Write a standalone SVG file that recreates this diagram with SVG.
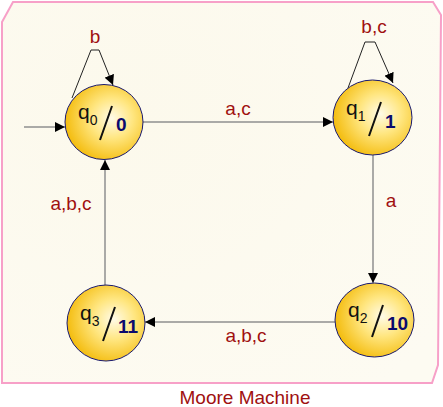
<svg xmlns="http://www.w3.org/2000/svg" width="443" height="407" viewBox="0 0 443 407">
<style>
.edge{stroke:#8f8f8f;stroke-width:1.5;fill:none}
.loop{stroke:#222;stroke-width:1;fill:none}
.lbl{font-family:"Liberation Sans",Arial,sans-serif;font-size:19px;fill:#a01010;text-anchor:middle}
.st{fill:url(#g);stroke:#1a1a6e;stroke-width:1}
.q{font-family:"Liberation Sans",Arial,sans-serif;font-size:21px;fill:#111}
.sub{font-size:14px}
.out{font-family:"Liberation Sans",Arial,sans-serif;font-size:19px;font-weight:bold;fill:#0a0a6e}
.sl{stroke:#111;stroke-width:2}
</style>
<defs>
<radialGradient id="g" cx="0.6" cy="0.45" r="0.6">
<stop offset="0" stop-color="#fffbe8"/>
<stop offset="0.45" stop-color="#ffe680"/>
<stop offset="1" stop-color="#f4bd10"/>
</radialGradient>
<radialGradient id="bg" cx="0.3" cy="0.3" r="0.9">
<stop offset="0" stop-color="#fcf9ec"/>
<stop offset="1" stop-color="#fdfbf2"/>
</radialGradient>
<marker id="ah" viewBox="0 0 10 10" refX="10" refY="5" markerWidth="10" markerHeight="10" markerUnits="userSpaceOnUse" orient="auto">
<path d="M0,0 L10,5 L0,10 z" fill="#000"/>
</marker>
</defs>
<polygon points="13,2 433,2 441,15 438,365 432,383 2,383 2,22" fill="url(#bg)" stroke="#f7a0c8" stroke-width="2"/>
<g id="connectors">
<line class="edge" x1="24" y1="127" x2="65" y2="127" marker-end="url(#ah)"/>
<line class="edge" x1="143" y1="122" x2="333" y2="122" marker-end="url(#ah)"/>
<line class="edge" x1="373" y1="155" x2="373" y2="283" marker-end="url(#ah)"/>
<line class="edge" x1="335" y1="322" x2="145" y2="322" marker-end="url(#ah)"/>
<line class="edge" x1="105" y1="285" x2="105" y2="160" marker-end="url(#ah)"/>
<polyline class="loop" points="72,98 91,50 99,50 113,85" marker-end="url(#ah)"/>
<polyline class="loop" points="348,88 365,42 375,42 393,83" marker-end="url(#ah)"/>
<text class="lbl" x="95" y="43">b</text>
<text class="lbl" x="374" y="33">b,c</text>
<text class="lbl" x="238" y="115">a,c</text>
<text class="lbl" x="391" y="207">a</text>
<text class="lbl" x="246" y="342">a,b,c</text>
<text class="lbl" x="71" y="210">a,b,c</text>
</g>
<g id="q0">
<ellipse class="st" cx="104" cy="122" rx="39" ry="37.5"/>
<text class="q" x="78" y="119">q<tspan class="sub" dy="6">0</tspan></text>
<line class="sl" x1="100" y1="140" x2="112" y2="106"/>
<text class="out" x="116" y="131">0</text>
</g>
<g id="q1">
<ellipse class="st" cx="372.5" cy="117.5" rx="39.5" ry="37.5"/>
<text class="q" x="346" y="115">q<tspan class="sub" dy="6">1</tspan></text>
<line class="sl" x1="369" y1="136" x2="381" y2="102"/>
<text class="out" x="385" y="128">1</text>
</g>
<g id="q2">
<ellipse class="st" cx="374.5" cy="320" rx="39.5" ry="37"/>
<text class="q" x="348" y="317">q<tspan class="sub" dy="6">2</tspan></text>
<line class="sl" x1="372" y1="337" x2="383" y2="305"/>
<text class="out" x="387" y="330">10</text>
</g>
<g id="q3">
<ellipse class="st" cx="106" cy="323" rx="39" ry="38"/>
<text class="q" x="80" y="320">q<tspan class="sub" dy="6">3</tspan></text>
<line class="sl" x1="103" y1="341" x2="115" y2="307"/>
<text class="out" x="118" y="333">11</text>
</g>
<text x="245" y="404" font-family="Liberation Sans,Arial,sans-serif" font-size="19" fill="#a01010" text-anchor="middle">Moore Machine</text>
</svg>
